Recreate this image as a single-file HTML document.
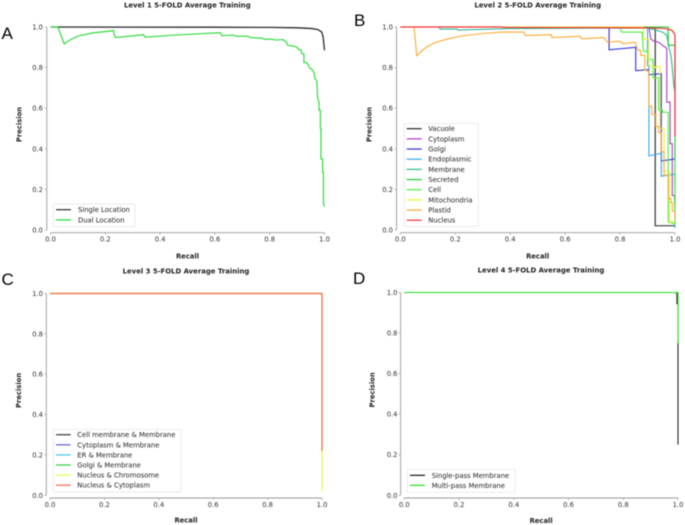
<!DOCTYPE html>
<html lang="en">
<head>
<meta charset="utf-8">
<title>Precision-Recall Curves, Levels 1 to 4</title>
<style>
  html, body { margin: 0; padding: 0; background: #fff; }
  #figure { display: block; width: 685px; height: 525px; filter: blur(0.45px); }
  text { font-family: "DejaVu Sans", "Liberation Sans", sans-serif; fill: #222; }
</style>
</head>
<body>
<svg id="figure" xmlns="http://www.w3.org/2000/svg" width="685" height="525" viewBox="0 0 685 525"></svg>
<script>
const tickValues = [0, 0.2, 0.4, 0.6, 0.8, 1];
const tickLabels = ['0.0', '0.2', '0.4', '0.6', '0.8', '1.0'];

const level1Names = ['Single Location', 'Dual Location'];
const singleLocationRecall = [0, 0.6, 0.8, 0.9, 0.95, 0.975, 0.99, 0.995, 1];
const singleLocationPrecision = [1, 0.999, 0.998, 0.996, 0.993, 0.988, 0.975, 0.95, 0.885];
const dualLocationRecall = [0, 0.027, 0.05, 0.07, 0.1, 0.15, 0.23, 0.232, 0.237, 0.34, 0.345, 0.45, 0.62, 0.625, 0.67, 0.675, 0.72, 0.73, 0.77, 0.78, 0.81, 0.82, 0.85, 0.855, 0.862, 0.865, 0.89, 0.9, 0.905, 0.915, 0.917, 0.925, 0.925, 0.935, 0.94, 0.945, 0.955, 0.962, 0.965, 0.97, 0.972, 0.975, 0.98, 0.98, 0.985, 0.985, 0.987, 0.987, 0.993, 0.993, 0.996, 0.996, 1];
const dualLocationPrecision = [1, 1, 0.917, 0.935, 0.955, 0.97, 0.982, 0.965, 0.948, 0.962, 0.95, 0.96, 0.972, 0.958, 0.96, 0.955, 0.955, 0.948, 0.945, 0.94, 0.94, 0.936, 0.938, 0.93, 0.925, 0.91, 0.905, 0.9, 0.888, 0.888, 0.868, 0.868, 0.825, 0.825, 0.815, 0.8, 0.79, 0.775, 0.745, 0.74, 0.73, 0.65, 0.63, 0.59, 0.59, 0.5, 0.5, 0.35, 0.35, 0.285, 0.285, 0.13, 0.115];

const level2Names = ['Vacuole', 'Cytoplasm', 'Golgi', 'Endoplasmic', 'Membrane', 'Secreted', 'Cell', 'Mitochondria', 'Plastid', 'Nucleus'];
const vacuoleRecall = [0, 0.928, 0.928, 1];
const vacuolePrecision = [1, 1, 0.021, 0.021];
const cytoplasmRecall = [0, 0.905, 0.912, 0.925, 0.94, 0.955, 0.97, 0.97, 0.982, 0.982, 0.99, 0.99, 0.998, 1];
const cytoplasmPrecision = [1, 1, 0.94, 0.93, 0.925, 0.91, 0.895, 0.63, 0.63, 0.425, 0.425, 0.17, 0.17, 0.1];
const golgiRecall = [0, 0.76, 0.76, 0.857, 0.857, 0.905, 0.905, 0.95, 0.95, 1, 1];
const golgiPrecision = [1, 1, 0.888, 0.9, 0.785, 0.79, 0.765, 0.77, 0.34, 0.35, 0.2];
const endoplasmicRecall = [0, 0.9, 0.9, 0.905, 0.905, 0.95, 0.95, 1, 1];
const endoplasmicPrecision = [1, 1, 0.81, 0.81, 0.365, 0.378, 0.265, 0.275, 0.01];
const membraneRecall = [0, 0.14, 0.145, 0.205, 0.21, 0.4, 0.7, 0.9, 0.93, 0.955, 0.97, 0.975, 0.985, 0.99, 0.995, 1];
const membranePrecision = [1, 1, 0.99, 0.99, 0.985, 0.992, 0.995, 0.995, 0.985, 0.975, 0.96, 0.92, 0.86, 0.8, 0.72, 0.68];
const secretedRecall = [0, 0.975, 0.975, 1, 1];
const secretedPrecision = [1, 1, 0.91, 0.91, 0.1];
const cellRecall = [0, 0.8, 0.805, 0.88, 0.885, 0.9, 0.9, 0.92, 0.92, 0.94, 0.94, 0.955, 0.955, 0.975, 0.975, 1, 1];
const cellPrecision = [1, 1, 0.975, 0.975, 0.88, 0.88, 0.84, 0.84, 0.75, 0.75, 0.59, 0.59, 0.58, 0.58, 0.04, 0.03, 0.35];
const mitochondriaRecall = [0, 0.885, 0.885, 0.905, 0.905, 0.93, 0.93, 0.945, 0.945, 0.96, 0.96, 0.98, 0.98, 1];
const mitochondriaPrecision = [1, 1, 0.94, 0.94, 0.81, 0.8, 0.805, 0.805, 0.5, 0.5, 0.29, 0.29, 0.04, 0.04];
const plastidRecall = [0, 0.05, 0.06, 0.08, 0.1, 0.13, 0.17, 0.22, 0.3, 0.37, 0.45, 0.455, 0.55, 0.552, 0.655, 0.66, 0.74, 0.755, 0.8, 0.81, 0.855, 0.865, 0.875, 0.875, 0.89, 0.89, 0.905, 0.905, 0.915, 0.915, 0.93, 0.93, 0.94, 0.94, 0.95, 0.95, 0.96, 0.96, 0.975, 0.975, 0.985, 0.985, 0.99, 0.99, 1, 1];
const plastidPrecision = [1, 1, 0.858, 0.885, 0.905, 0.925, 0.94, 0.955, 0.968, 0.975, 0.975, 0.958, 0.962, 0.948, 0.955, 0.942, 0.948, 0.925, 0.93, 0.918, 0.925, 0.885, 0.885, 0.86, 0.86, 0.79, 0.78, 0.61, 0.61, 0.57, 0.57, 0.51, 0.51, 0.48, 0.48, 0.385, 0.385, 0.27, 0.27, 0.155, 0.155, 0.135, 0.135, 0.095, 0.09, 0.05];
const nucleusRecall = [0, 0.37, 0.375, 0.9, 0.96, 0.98, 0.99, 0.996, 1, 1];
const nucleusPrecision = [1, 1, 0.998, 0.996, 0.993, 0.988, 0.982, 0.97, 0.96, 0.46];

const level3Names = ['Cell membrane & Membrane', 'Cytoplasm & Membrane', 'ER & Membrane', 'Golgi & Membrane', 'Nucleus & Chromosome', 'Nucleus & Cytoplasm'];
const cellMembraneRecall = [0, 1];
const cellMembranePrecision = [1, 1];
const cytoplasmMembraneRecall = [0, 1];
const cytoplasmMembranePrecision = [1, 1];
const erMembraneRecall = [0, 1];
const erMembranePrecision = [1, 1];
const golgiMembraneRecall = [0, 1];
const golgiMembranePrecision = [1, 1];
const nucleusChromosomeRecall = [0, 1, 1];
const nucleusChromosomePrecision = [1, 1, 0.02];
const nucleusCytoplasmRecall = [0, 1, 1];
const nucleusCytoplasmPrecision = [1, 1, 0.22];

const level4Names = ['Single-pass Membrane', 'Multi-pass Membrane'];
const singlePassRecall = [0, 0.99, 0.996, 0.996, 1, 1];
const singlePassPrecision = [1, 1, 0.998, 0.945, 0.945, 0.25];
const multiPassRecall = [0, 1, 1];
const multiPassPrecision = [1, 1, 0.75];

const figure = document.getElementById('figure');
const NS = 'http://www.w3.org/2000/svg';

function make(tag, attrs, parent) {
  const node = document.createElementNS(NS, tag);
  for (const key in attrs) node.setAttribute(key, attrs[key]);
  parent.appendChild(node);
  return node;
}

const panels = [
  { key: 'a', title: 'Level 1 5-FOLD Average Training', letter: 'A', letterX: 1.5, letterY: 39,
    left: 50.5, right: 324.5, top: 27, bottom: 230, titleX: 187.3, titleY: 7.3, yLabelX: 19, xLabelY: 258.3, tickRight: 43,
    names: level1Names, colors: ['#2a2a2a', '#22d82e'], widths: [1.3, 1.1],
    recalls: [singleLocationRecall, dualLocationRecall], precisions: [singleLocationPrecision, dualLocationPrecision],
    box: [53.3, 204, 81.7, 22.7], lineX: [56, 71], textX: 78, firstRow: 209.7, rowStep: 10.2 },
  { key: 'b', title: 'Level 2 5-FOLD Average Training', letter: 'B', letterX: 354, letterY: 26,
    left: 400.3, right: 675, top: 27, bottom: 230, titleX: 537.7, titleY: 7.3, yLabelX: 369, xLabelY: 258.3, tickRight: 393,
    names: level2Names,
    colors: ['#222222', '#a83cc4', '#3030e0', '#35a8ee', '#2cba98', '#18cc30', '#48f040', '#f2f230', '#ffa830', '#f03030'],
    widths: [1.1, 1.1, 1.1, 1.1, 1.1, 1.1, 1.1, 1.1, 1.1, 1.2],
    recalls: [vacuoleRecall, cytoplasmRecall, golgiRecall, endoplasmicRecall, membraneRecall, secretedRecall, cellRecall, mitochondriaRecall, plastidRecall, nucleusRecall],
    precisions: [vacuolePrecision, cytoplasmPrecision, golgiPrecision, endoplasmicPrecision, membranePrecision, secretedPrecision, cellPrecision, mitochondriaPrecision, plastidPrecision, nucleusPrecision],
    box: [404.3, 123.3, 74, 103.4], lineX: [406.7, 421.7], textX: 428.3, firstRow: 128.7, rowStep: 10.17 },
  { key: 'c', title: 'Level 3 5-FOLD Average Training', letter: 'C', letterX: 1.5, letterY: 285,
    left: 50, right: 322, top: 293.5, bottom: 495.3, titleX: 186, titleY: 273.6, yLabelX: 18.3, xLabelY: 522.3, tickRight: 43,
    names: level3Names, colors: ['#333333', '#5a5ae0', '#40c8d8', '#38c840', '#e8f850', '#f4684a'], widths: [1, 1, 1, 1, 1.2, 1.2],
    recalls: [cellMembraneRecall, cytoplasmMembraneRecall, erMembraneRecall, golgiMembraneRecall, nucleusChromosomeRecall, nucleusCytoplasmRecall],
    precisions: [cellMembranePrecision, cytoplasmMembranePrecision, erMembranePrecision, golgiMembranePrecision, nucleusChromosomePrecision, nucleusCytoplasmPrecision],
    box: [53.3, 429.3, 127.7, 62.7], lineX: [56, 70.7], textX: 77.3, firstRow: 434.7, rowStep: 10.1 },
  { key: 'd', title: 'Level 4 5-FOLD Average Training', letter: 'D', letterX: 353, letterY: 284,
    left: 404.3, right: 678, top: 292.5, bottom: 495.3, titleX: 541, titleY: 272.6, yLabelX: 372, xLabelY: 522.8, tickRight: 397.5,
    names: level4Names, colors: ['#111111', '#22dd22'], widths: [1, 1.1],
    recalls: [singlePassRecall, multiPassRecall], precisions: [singlePassPrecision, multiPassPrecision],
    box: [407.3, 469.3, 108, 23], lineX: [410, 425], textX: 431.7, firstRow: 475.3, rowStep: 10 }
];

function drawPanel(p) {
  const xScale = function (recall) { return p.left + recall * (p.right - p.left); };
  const yScale = function (precision) { return p.bottom - precision * (p.bottom - p.top); };

  const group = make('g', {}, figure);
  
  

  const letter = make('text', { x: p.letterX, y: p.letterY, 'font-size': 17 }, group);
  
  
  letter.style.fontFamily = '"Liberation Sans", sans-serif';
  letter.style.fill = '#000';
  letter.textContent = p.letter;

  const title = make('text', { x: p.titleX, y: p.titleY, 'font-size': 6.9, 'font-weight': 'bold', 'text-anchor': 'middle' }, group);
  
  
  title.textContent = p.title;

  const spineLeft = p.left - 3.7;
  const spineBottom = p.bottom + 2.7;

  const ySpine = make('line', { x1: spineLeft, x2: spineLeft, y1: p.top, y2: p.bottom, stroke: '#999', 'stroke-width': 0.9 }, group);
  
  

  const xSpine = make('line', { x1: p.left, x2: p.right, y1: spineBottom, y2: spineBottom, stroke: '#999', 'stroke-width': 0.9 }, group);
  
  

  tickValues.forEach(function (value, i) {
    const xTick = make('line', { x1: xScale(value), x2: xScale(value), y1: spineBottom, y2: spineBottom + 2, stroke: '#999', 'stroke-width': 0.7 }, group);
    
    

    const xText = make('text', { x: xScale(value), y: spineBottom + 9, 'font-size': 6.8, 'text-anchor': 'middle' }, group);
    
    
    xText.style.fill = '#333';
    xText.textContent = tickLabels[i];

    const yTick = make('line', { x1: spineLeft - 2, x2: spineLeft, y1: yScale(value), y2: yScale(value), stroke: '#999', 'stroke-width': 0.7 }, group);
    
    

    const yText = make('text', { x: p.tickRight, y: yScale(value) + 2.5, 'font-size': 6.8, 'text-anchor': 'end' }, group);
    
    
    yText.style.fill = '#333';
    yText.textContent = tickLabels[i];
  });

  const xLabel = make('text', { x: (p.left + p.right) / 2, y: p.xLabelY, 'font-size': 6.8, 'font-weight': 'bold', 'text-anchor': 'middle' }, group);
  
  
  xLabel.textContent = 'Recall';

  const yMid = (p.top + p.bottom) / 2 - 4;
  const yLabel = make('text', { x: p.yLabelX + 2.5, y: yMid, 'font-size': 6.8, 'font-weight': 'bold', 'text-anchor': 'middle', transform: 'rotate(-90 ' + (p.yLabelX + 2.5) + ' ' + yMid + ')' }, group);
  
  
  yLabel.textContent = 'Precision';

  p.names.forEach(function (name, i) {
    const points = p.recalls[i].map(function (r, j) {
      return xScale(r).toFixed(2) + ',' + yScale(p.precisions[i][j]).toFixed(2);
    }).join(' ');
    const curve = make('polyline', { points: points, fill: 'none', stroke: p.colors[i], 'stroke-width': p.widths[i], 'stroke-linejoin': 'miter' }, group);
    
    
  });

  const legend = make('g', {}, group);
  
  

  const frame = make('rect', { x: p.box[0], y: p.box[1], width: p.box[2], height: p.box[3], rx: 1.5, fill: '#fff', 'fill-opacity': 0.85, stroke: '#e2e2e2', 'stroke-width': 0.7 }, legend);
  
  

  p.names.forEach(function (name, i) {
    const rowY = p.firstRow + i * p.rowStep;
    const swatch = make('line', { x1: p.lineX[0], x2: p.lineX[1], y1: rowY, y2: rowY, stroke: p.colors[i], 'stroke-width': 1.2 }, legend);
    
    

    const label = make('text', { x: p.textX, y: rowY + 2.5, 'font-size': 6.8 }, legend);
    
    
    label.textContent = name;
  });
}

panels.forEach(drawPanel);
</script>
</body>
</html>
